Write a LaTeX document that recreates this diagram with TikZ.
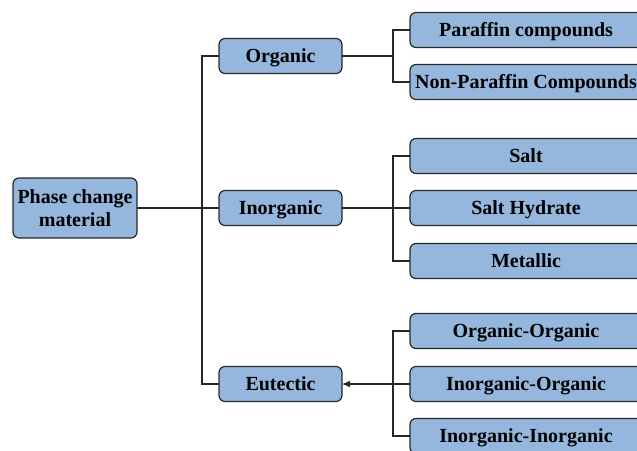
\documentclass[tikz,border=0pt]{standalone}
\usepackage{fontspec}
\setmainfont{Liberation Serif}
\usepackage{tikz}
\usetikzlibrary{arrows.meta}

\definecolor{boxblue}{RGB}{149,183,222}
\definecolor{boxline}{RGB}{40,40,40}

\begin{document}
\begin{tikzpicture}[x=1pt, y=-1pt,
  every node/.style={draw=boxline, line width=1.2pt, fill=boxblue, rounded corners=6pt,
    font=\fontsize{20}{23}\selectfont\bfseries, inner sep=2pt, outer sep=0pt},
  topbox/.style={minimum width=124pt, minimum height=60pt, align=center},
  midbox/.style={minimum width=123pt, minimum height=35pt, text height=13pt, text depth=1pt},
  leafbox/.style={minimum width=240pt, minimum height=35pt, text height=13pt, text depth=1pt},
  link/.style={draw=black!85, line width=1.1pt}]
\useasboundingbox (0,0) rectangle (637,450);
\clip (0,0) rectangle (637,450);

\node[topbox] (pcm) at (75,208) {Phase change\\material};

\node[midbox] (org) at (280.5,56) {Organic};
\node[midbox] (inorg) at (280.5,208) {Inorganic};
\node[midbox] (eut) at (280.5,384) {Eutectic};

\node[leafbox] (paraffin) at (530,30) {\hspace*{-8pt}Paraffin compounds};
\node[leafbox] (nonparaffin) at (530,82) {\hspace*{-8pt}Non-Paraffin Compounds};

\node[leafbox] (salt) at (530,156) {\hspace*{-8pt}Salt};
\node[leafbox] (salthyd) at (530,208) {\hspace*{-8pt}Salt Hydrate};
\node[leafbox] (metallic) at (530,261) {\hspace*{-8pt}Metallic};

\node[leafbox] (orgorg) at (530,331) {\hspace*{-8pt}Organic-Organic};
\node[leafbox] (inorgorg) at (530,384) {\hspace*{-8pt}Inorganic-Organic};
\node[leafbox] (inorginorg) at (530,436) {\hspace*{-8pt}Inorganic-Inorganic};

\coordinate (trunk) at (202,208);
\coordinate (orgbr) at (393,56);
\coordinate (inorgbr) at (393,208);
\coordinate (eutbr) at (393,384);

\draw[link] (pcm) -- (inorg);
\draw[link] (org.west) -| (trunk) |- (eut.west);

\draw[link] (org) -- (orgbr);
\draw[link] (paraffin.west) -| (orgbr) |- (nonparaffin.west);

\draw[link] (inorg) -- (salthyd);
\draw[link] (salt.west) -| (inorgbr) |- (metallic.west);

\draw[link, -{Latex[length=8pt, width=7pt]}] (inorgorg) -- (eut);
\draw[link] (orgorg.west) -| (eutbr) |- (inorginorg.west);
\end{tikzpicture}
\end{document}
